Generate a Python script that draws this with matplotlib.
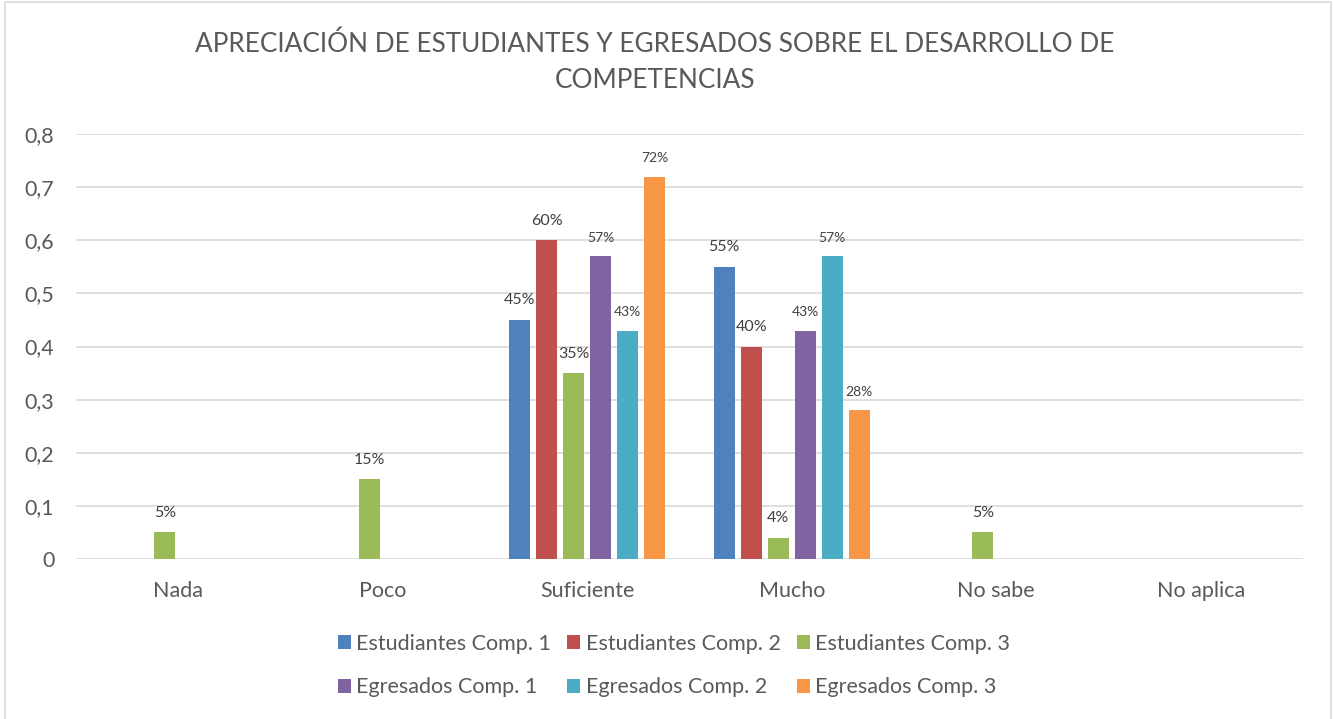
import numpy as np
from matplotlib import pyplot as plt
from matplotlib.patches import Rectangle

categories = ['Nada', 'Poco', 'Suficiente', 'Mucho', 'No sabe', 'No aplica']
est_comp1 = [0, 0, 0.45, 0.55, 0, 0]
est_comp2 = [0, 0, 0.60, 0.40, 0, 0]
est_comp3 = [0.05, 0.15, 0.35, 0.04, 0.05, 0]
egr_comp1 = [0, 0, 0.57, 0.43, 0, 0]
egr_comp2 = [0, 0, 0.43, 0.57, 0, 0]
egr_comp3 = [0, 0, 0.72, 0.28, 0, 0]
series_names = ['Estudiantes Comp. 1', 'Estudiantes Comp. 2', 'Estudiantes Comp. 3',
                'Egresados Comp. 1', 'Egresados Comp. 2', 'Egresados Comp. 3']
y_ticks = [0, 0.1, 0.2, 0.3, 0.4, 0.5, 0.6, 0.7, 0.8]
y_tick_labels = ['0', '0,1', '0,2', '0,3', '0,4', '0,5', '0,6', '0,7', '0,8']

colors = ['#4F81BD', '#C0504D', '#9BBB59', '#8064A2', '#4BACC6', '#F79646']
txt = '#595959'
plt.rcParams['font.family'] = ['Lato', 'DejaVu Sans']

fig = plt.figure(figsize=(13.33, 7.19), dpi=100)
ax = fig.add_axes([0.057, 0.2225, 0.9205, 0.5911])
fig.patches.append(Rectangle((5 / 1333, -0.01), 1326 / 1333, 1 - 2 / 719 + 0.01,
                             transform=fig.transFigure, fill=False,
                             edgecolor='#d9d9d9', linewidth=1.2))

series = [est_comp1, est_comp2, est_comp3, egr_comp1, egr_comp2, egr_comp3]
x = np.arange(len(categories))
step = 0.132
width = 0.103
handles = []
for i, vals in enumerate(series):
    pos = x + (i - 2.5) * step
    b = ax.bar(pos, vals, width, color=colors[i], label=series_names[i], zorder=3)
    handles.append(b)
    labels = ['{:.0f}%'.format(v * 100) if v > 0 else '' for v in vals]
    fs = 11.5 if i < 3 else 10
    ax.bar_label(b, labels=labels, padding=9, fontsize=fs, color='#404040')

ax.set_xlim(-0.5, len(categories) - 0.5)
ax.set_ylim(0, 0.8)
ax.set_yticks(y_ticks)
ax.set_yticklabels(y_tick_labels)
ax.set_xticks(x)
ax.set_xticklabels(categories)
ax.tick_params(axis='both', length=0, labelsize=15.5, labelcolor=txt)
ax.tick_params(axis='x', pad=15.5)
ax.tick_params(axis='y', pad=15.5)
ax.grid(axis='y', color='#d9d9d9', linewidth=1.2, zorder=0)
for s in ax.spines.values():
    s.set_visible(False)

fig.text(0.491, 0.913, 'APRECIACIÓN DE ESTUDIANTES Y EGRESADOS SOBRE EL DESARROLLO DE\nCOMPETENCIAS',
         ha='center', va='center', fontsize=18.8, color=txt, linespacing=1.55)

order = [0, 3, 1, 4, 2, 5]
leg = fig.legend([handles[k] for k in order], [series_names[k] for k in order],
                 ncol=3, loc='center', bbox_to_anchor=(0.5056, 0.0744), frameon=False,
                 fontsize=15.5, handlelength=0.6, handleheight=0.6, handletextpad=0.25,
                 columnspacing=0.75, labelspacing=1.1, labelcolor=txt)

plt.savefig('out.png', dpi=100)
